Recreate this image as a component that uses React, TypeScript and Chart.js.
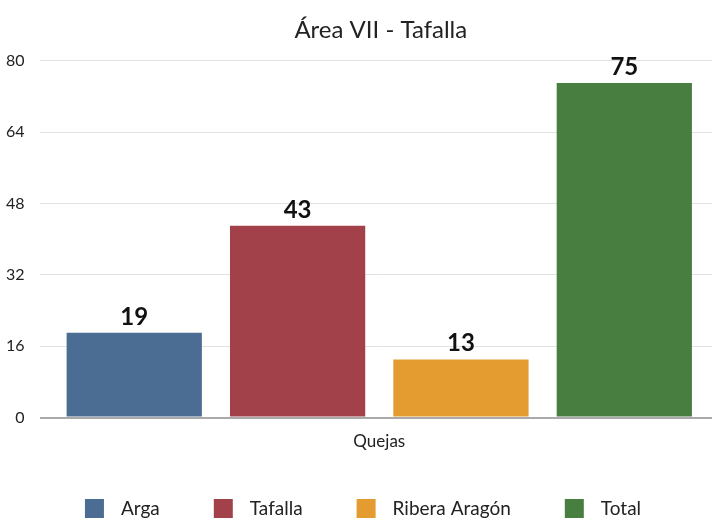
import React, { useEffect, useRef } from "react";
import { Chart, registerables } from "chart.js";

Chart.register(...registerables);

const chartTitle = "Área VII - Tafalla";
const categories = ["Quejas"];
const seriesNames = ["Arga", "Tafalla", "Ribera Aragón", "Total"];
const seriesValues = [19, 43, 13, 75];
const seriesColors = ["#4b6d93", "#a2414a", "#e49b30", "#487f40"];
const yTicks = [0, 16, 32, 48, 64, 80];

const FONT = "Lato, 'Open Sans', sans-serif";
const PLOT_OVERHANG = 7;

const extendPlot = {
  id: "extendPlot",
  afterLayout(chart: any) {
    chart.chartArea.right += PLOT_OVERHANG;
    chart.chartArea.width = chart.chartArea.right - chart.chartArea.left;
    const x = chart.scales.x;
    x.right += PLOT_OVERHANG;
    x.width += PLOT_OVERHANG;
    x.configure();
    if (chart.titleBlock) {
      chart.titleBlock.right += 2 * PLOT_OVERHANG - 4;
    }
  },
};

const valueLabels = {
  id: "valueLabels",
  afterDatasetsDraw(chart: any) {
    const ctx = chart.ctx;
    ctx.save();
    ctx.font = `bold 24px ${FONT}`;
    ctx.fillStyle = "#111";
    ctx.textAlign = "center";
    ctx.textBaseline = "bottom";
    chart.data.datasets.forEach((ds: any, i: number) => {
      const meta = chart.getDatasetMeta(i);
      meta.data.forEach((bar: any, j: number) => {
        ctx.fillText(String(ds.data[j]), bar.x, bar.y - 4);
      });
    });
    ctx.restore();
  },
};

const bottomLegend = {
  id: "bottomLegend",
  afterDraw(chart: any) {
    const ctx = chart.ctx;
    const box = 19;
    const textGap = 17;
    const itemGap = 54;
    ctx.save();
    ctx.font = `19px ${FONT}`;
    ctx.textBaseline = "middle";
    ctx.textAlign = "left";
    const items = chart.data.datasets.map((ds: any) => ({
      text: ds.label,
      color: ds.backgroundColor,
      w: box + textGap + ctx.measureText(ds.label).width,
    }));
    const total = items.reduce((s: number, it: any) => s + it.w, 0) + itemGap * (items.length - 1);
    let x = chart.width / 2 + 7 - total / 2;
    const cy = chart.height - 14.5;
    items.forEach((it: any) => {
      ctx.fillStyle = it.color;
      ctx.fillRect(x, cy - box / 2, box, box);
      ctx.fillStyle = "#222";
      ctx.fillText(it.text, x + box + textGap, cy);
      x += it.w + itemGap;
    });
    ctx.restore();
  },
};

export default function App() {
  const ref = useRef<HTMLCanvasElement>(null);
  useEffect(() => {
    document.body.style.margin = "0";
    const chart = new Chart(ref.current!, {
      type: "bar",
      data: {
        labels: categories,
        datasets: seriesNames.map((name, i) => ({
          label: name,
          data: [seriesValues[i]],
          backgroundColor: seriesColors[i],
          borderWidth: 0,
        })),
      },
      plugins: [extendPlot, valueLabels, bottomLegend],
      options: {
        responsive: false,
        animation: false,
        layout: { padding: { left: -9, right: 0, top: 0, bottom: 57 } },
        datasets: {
          bar: { categoryPercentage: 0.9617, barPercentage: 0.828 },
        },
        plugins: {
          title: {
            display: true,
            text: chartTitle,
            fullSize: false,
            color: "#222",
            font: { family: FONT, size: 24, weight: "normal" },
            padding: { top: 16, bottom: 16 },
          },
          legend: { display: false },
          tooltip: { enabled: false },
        },
        scales: {
          x: {
            grid: { display: false, drawTicks: false },
            border: { display: false },
            ticks: {
              color: "#222",
              padding: 14,
              font: { family: FONT, size: 17 },
            },
          },
          y: {
            min: 0,
            max: 80,
            afterBuildTicks: (axis: any) => {
              axis.ticks = yTicks.map((v) => ({ value: v }));
            },
            border: { display: false },
            grid: {
              drawTicks: false,
              color: (c: any) => (c.tick && c.tick.value === 0 ? "#aaaaaa" : "#e2e2e2"),
              lineWidth: (c: any) => (c.tick && c.tick.value === 0 ? 2 : 1),
            },
            ticks: {
              color: "#222",
              padding: 15,
              font: { family: FONT, size: 16 },
            },
          },
        },
      } as any,
    });
    return () => chart.destroy();
  }, []);
  return (
    <div style={{ position: "fixed", left: 0, top: 0, width: 712, height: 523 }}>
      <canvas ref={ref} width={712} height={523} />
    </div>
  );
}
